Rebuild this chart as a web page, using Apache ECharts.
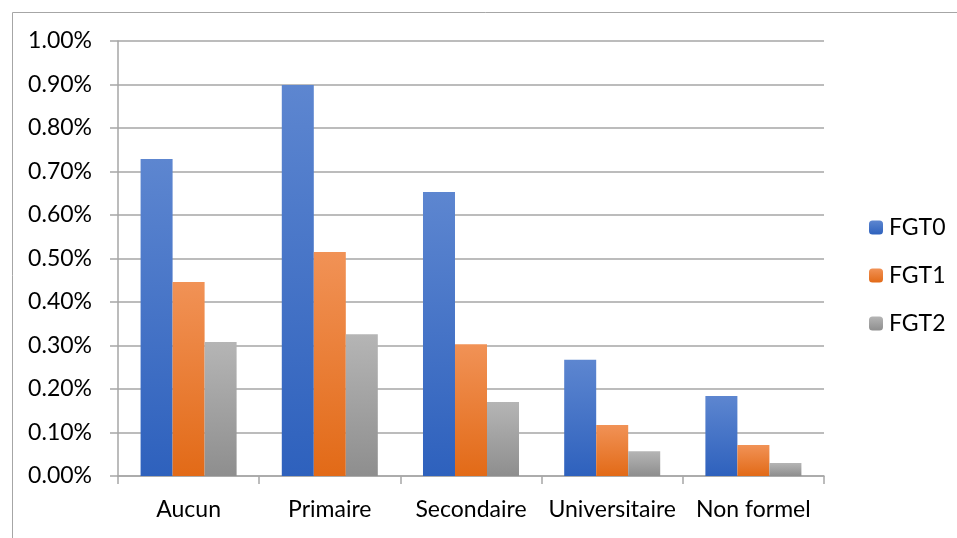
<!DOCTYPE html>
<html>
<head>
<meta charset="utf-8">
<script src="https://cdn.jsdelivr.net/npm/echarts@6/dist/echarts.min.js"></script>
<style>
html,body{margin:0;padding:0;background:#fff;}
#chart{width:957px;height:538px;}
</style>
</head>
<body>
<div id="chart"></div>
<script>
const categories = ['Aucun', 'Primaire', 'Secondaire', 'Universitaire', 'Non formel'];
const fgt0 = [0.729, 0.899, 0.653, 0.267, 0.184];
const fgt1 = [0.446, 0.515, 0.303, 0.117, 0.071];
const fgt2 = [0.308, 0.326, 0.170, 0.057, 0.030];
const seriesNames = ['FGT0', 'FGT1', 'FGT2'];

function grad(top, bottom) {
  return new echarts.graphic.LinearGradient(0, 0, 0, 1, [
    {offset: 0, color: top}, {offset: 1, color: bottom}
  ]);
}
const colors = [grad('#5d86d0', '#2e61bd'), grad('#f19256', '#e26a17'), grad('#b5b5b5', '#8e8e8e')];
const font = 'Lato, "Open Sans", sans-serif';

const chart = echarts.init(document.getElementById('chart'));
chart.setOption({
  animation: false,
  textStyle: {fontFamily: font},
  graphic: [{
    type: 'rect', left: 10, top: 10, shape: {width: 1200, height: 1200},
    style: {fill: 'none', stroke: '#a6a6a6', lineWidth: 1}, silent: true
  }],
  grid: {left: 118, right: 133, top: 41, bottom: 62},
  legend: {
    orient: 'vertical', left: 864, top: 211, itemWidth: 14, itemHeight: 14, itemGap: 25,
    textStyle: {fontSize: 23, color: '#000', fontFamily: font, padding: [0, 0, 0, 1]},
    data: seriesNames
  },
  xAxis: {
    type: 'category', data: categories,
    axisLine: {lineStyle: {color: '#a6a6a6', width: 1.5}},
    axisTick: {show: true, length: 8, lineStyle: {color: '#a6a6a6', width: 1.5}},
    axisLabel: {fontSize: 23, color: '#000', margin: 22, fontFamily: font, interval: 0}
  },
  yAxis: {
    type: 'value', min: 0, max: 1, interval: 0.1,
    axisLine: {show: true, lineStyle: {color: '#a6a6a6', width: 1.5}},
    axisTick: {show: true, length: 8, lineStyle: {color: '#a6a6a6', width: 1.5}},
    splitLine: {lineStyle: {color: '#a6a6a6', width: 1.5}},
    axisLabel: {fontSize: 23, color: '#000', margin: 26, fontFamily: font,
      formatter: v => v.toFixed(2) + '%'}
  },
  series: [fgt0, fgt1, fgt2].map((d, i) => ({
    name: seriesNames[i], type: 'bar', data: d,
    barGap: '0%', barCategoryGap: '32%',
    itemStyle: {color: colors[i]}
  }))
});
</script>
</body>
</html>
